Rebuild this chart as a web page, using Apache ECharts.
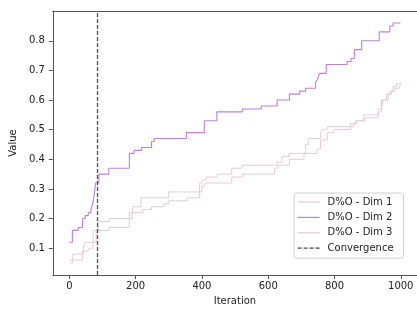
<!DOCTYPE html>
<html><head><meta charset="utf-8">
<script src="https://cdn.jsdelivr.net/npm/echarts@6/dist/echarts.min.js"></script>
<style>html,body{margin:0;padding:0;background:#fff}#c{width:417px;height:311px}</style>
</head><body><div id="c"></div>
<script>
// Step change points (iteration at which the best value changes, and new value)
const dim1Iter = [0, 10, 42, 47, 72, 87, 121, 181, 191, 216, 300, 393, 400, 413, 445, 490, 522, 626, 642, 664, 713, 721, 758, 763, 778, 848, 863, 887, 932, 942, 957, 967, 977, 987, 999];
const dim1Val  = [0.05, 0.08, 0.10, 0.12, 0.16, 0.19, 0.20, 0.22, 0.24, 0.27, 0.29, 0.32, 0.33, 0.34, 0.35, 0.37, 0.38, 0.39, 0.41, 0.42, 0.45, 0.47, 0.49, 0.50, 0.51, 0.52, 0.53, 0.55, 0.57, 0.60, 0.62, 0.63, 0.645, 0.655, 0.66];
const dim2Iter = [0, 9, 27, 40, 48, 57, 65, 70, 75, 79, 89, 119, 181, 195, 218, 248, 256, 353, 407, 445, 522, 579, 627, 664, 695, 713, 743, 749, 755, 775, 838, 850, 860, 882, 935, 967, 977, 999];
const dim2Val  = [0.12, 0.16, 0.17, 0.20, 0.21, 0.22, 0.23, 0.25, 0.28, 0.32, 0.35, 0.37, 0.42, 0.43, 0.44, 0.46, 0.47, 0.49, 0.53, 0.56, 0.57, 0.58, 0.60, 0.62, 0.63, 0.64, 0.66, 0.67, 0.69, 0.72, 0.73, 0.74, 0.77, 0.80, 0.83, 0.85, 0.86, 0.86];
const dim3Iter = [0, 40, 57, 71, 81, 121, 181, 190, 221, 248, 285, 300, 355, 393, 400, 408, 490, 522, 619, 629, 664, 708, 748, 758, 778, 798, 848, 858, 868, 892, 932, 942, 947, 962, 972, 982, 995, 999];
const dim3Val  = [0.06, 0.09, 0.10, 0.12, 0.16, 0.17, 0.20, 0.22, 0.23, 0.24, 0.25, 0.26, 0.27, 0.29, 0.31, 0.32, 0.34, 0.35, 0.37, 0.38, 0.40, 0.42, 0.435, 0.465, 0.49, 0.50, 0.51, 0.52, 0.53, 0.54, 0.56, 0.57, 0.60, 0.62, 0.63, 0.64, 0.645, 0.65];
const convergenceIter = 85;
const xTicks = [0, 200, 400, 600, 800, 1000];
const yTicks = [0.1, 0.2, 0.3, 0.4, 0.5, 0.6, 0.7, 0.8];
const seriesNames = ['D%O - Dim 1', 'D%O - Dim 2', 'D%O - Dim 3', 'Convergence'];

const zip = (a, b) => a.map((v, i) => [v, b[i]]);
const FONT = 'DejaVu Sans';
const axisColor = '#555';
const chart = echarts.init(document.getElementById('c'), null, {renderer: 'canvas'});
const stepSeries = (name, data, color, width) => ({
  name, type: 'line', step: 'end', data, symbol: 'none', showSymbol: false,
  lineStyle: {color, width}, itemStyle: {color}, animation: false, z: 2
});
chart.setOption({
  animation: false,
  grid: {left: 51, top: 11, width: 368, height: 269, containLabel: false},
  xAxis: [{
    type: 'value', min: -50, max: 1049,
    name: 'Iteration', nameLocation: 'middle', nameGap: 21,
    nameTextStyle: {fontFamily: FONT, fontSize: 10, color: '#222'},
    axisLine: {show: true, onZero: false, lineStyle: {color: axisColor, width: 1}},
    axisTick: {show: true, length: 4, customValues: xTicks, lineStyle: {color: axisColor}},
    axisLabel: {customValues: xTicks, fontFamily: FONT, fontSize: 10, color: '#222', margin: 6,
      formatter: v => String(v)},
    splitLine: {show: false}
  }, {
    type: 'value', min: -50, max: 1049, position: 'top',
    axisLine: {show: true, onZero: false, lineStyle: {color: axisColor, width: 1}},
    axisTick: {show: false}, axisLabel: {show: false}, splitLine: {show: false}
  }],
  yAxis: {
    type: 'value', min: 0.0095, max: 0.9005,
    name: 'Value', nameLocation: 'middle', nameGap: 28,
    nameTextStyle: {fontFamily: FONT, fontSize: 10, color: '#222'},
    axisLine: {show: true, onZero: false, lineStyle: {color: axisColor, width: 1}},
    axisTick: {show: true, length: 4, customValues: yTicks, lineStyle: {color: axisColor}},
    axisLabel: {customValues: yTicks, fontFamily: FONT, fontSize: 10, color: '#222', margin: 8,
      formatter: v => v.toFixed(1)},
    splitLine: {show: false}
  },
  legend: {
    show: true,
    data: seriesNames, orient: 'vertical', left: 294, top: 193,
    padding: [4, 10, 5, 3], itemGap: 5.4, itemWidth: 22, itemHeight: 10,
    backgroundColor: '#fff', borderColor: '#d0d0d0', borderWidth: 1, borderRadius: 3,
    itemStyle: {opacity: 0, borderWidth: 0},
    lineStyle: {width: 1.2},
    textStyle: {fontFamily: FONT, fontSize: 10, color: '#222', padding: [0, 0, 0, 3]},
    selectedMode: false
  },
  series: [
    stepSeries(seriesNames[0], zip(dim1Iter, dim1Val), '#e2cbd9', 1),
    stepSeries(seriesNames[1], zip(dim2Iter, dim2Val), '#c27fd9', 1.1),
    stepSeries(seriesNames[2], zip(dim3Iter, dim3Val), '#e6c9dc', 1),
    {
      name: seriesNames[3], type: 'line', data: [], symbol: 'none',
      lineStyle: {color: '#444', width: 1.3, type: [4, 2]}, itemStyle: {color: '#444'},
      markLine: {
        silent: true, symbol: 'none', animation: false,
        label: {show: false},
        lineStyle: {color: '#555', width: 1.3, type: [4, 2]},
        data: [{xAxis: convergenceIter}]
      }
    }
  ]
});
</script></body></html>
